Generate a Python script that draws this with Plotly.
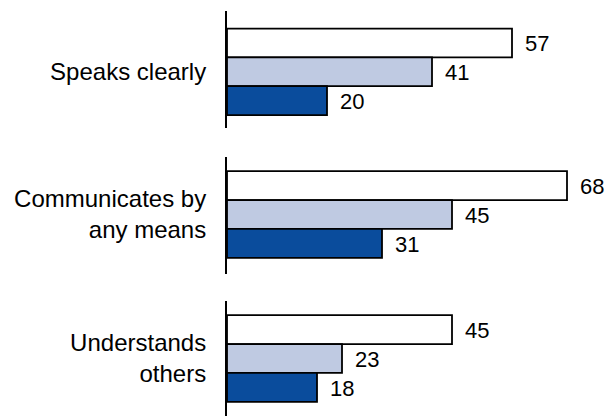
import plotly.graph_objects as go
from plotly.subplots import make_subplots

categories = ["Speaks clearly", "Communicates by<br>any means", "Understands<br>others"]
series_names = ["Series 1", "Series 2", "Series 3"]
series_white = [57, 68, 45]
series_light = [41, 45, 23]
series_dark = [20, 31, 18]

series_values = [series_white, series_light, series_dark]
colors = ["#FFFFFF", "#BFCAE2", "#0A4C9C"]

W, H = 605, 416
FONT = "Liberation Sans, Arial, sans-serif"
FS_VAL = 22
FS_CAT = 24

fig = make_subplots(rows=3, cols=1)

# pixel placement of each group's axis segment, and y ranges
row_px = [(11, 128), (157, 274), (301, 416)]
row_ranges = [[2.95, -1.11], [3.06, -0.99], [2.99, -0.99]]

ml = 227
mr = 5
plot_w = W - ml - mr
x_max = plot_w / 5.0

for i, cat in enumerate(categories):
    r = i + 1
    for j, vals in enumerate(series_values):
        fig.add_trace(
            go.Bar(
                x=[vals[i]], y=[j], orientation="h", width=1.0,
                marker=dict(color=colors[j], line=dict(color="black", width=1.8)),
                name=series_names[j], showlegend=False, hoverinfo="skip",
            ),
            row=r, col=1,
        )
        xref = "x" if r == 1 else f"x{r}"
        yref = "y" if r == 1 else f"y{r}"
        fig.add_annotation(
            x=vals[i], y=j, xref=xref, yref=yref, text=str(vals[i]),
            showarrow=False, xanchor="left", yanchor="middle", xshift=11, yshift=-1,
            font=dict(family=FONT, size=FS_VAL, color="black"),
        )
    top, bot = row_px[i]
    fig.update_yaxes(
        domain=[1 - bot / H, 1 - top / H], range=row_ranges[i],
        tickvals=[1], ticktext=[cat], showline=True, linecolor="black", linewidth=2,
        showgrid=False, zeroline=False, ticks="", ticklabelstandoff=14,
        tickfont=dict(family=FONT, size=FS_CAT, color="black"),
        row=r, col=1,
    )
    fig.update_xaxes(
        range=[0, x_max], visible=False, showgrid=False, zeroline=False,
        row=r, col=1,
    )

fig.update_layout(
    width=W, height=H, margin=dict(l=ml, r=mr, t=0, b=0),
    paper_bgcolor="white", plot_bgcolor="white", barmode="overlay",
    font=dict(family=FONT, size=FS_VAL, color="black"), showlegend=False,
)

fig.write_html(
    "out.html",
    config={"displayModeBar": False, "staticPlot": True},
    post_script="document.body.style.margin='0';document.body.style.overflow='hidden';",
)
